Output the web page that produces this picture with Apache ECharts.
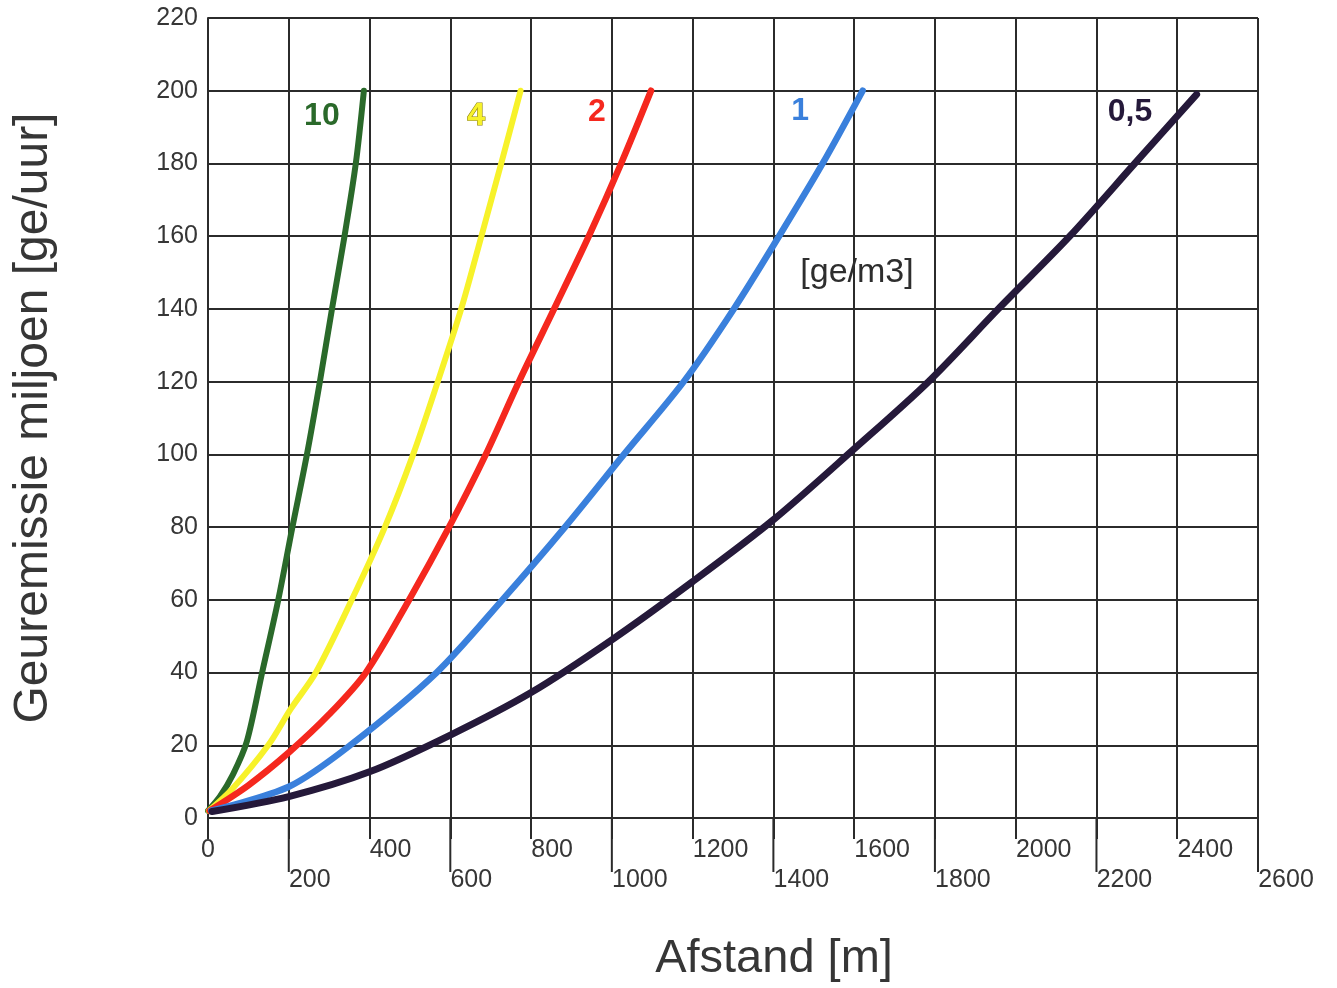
<!DOCTYPE html>
<html><head><meta charset="utf-8">
<script src="https://cdn.jsdelivr.net/npm/echarts@6/dist/echarts.min.js"></script>
<style>html,body{margin:0;padding:0;background:#fff}#c{width:1337px;height:988px}</style>
</head><body><div id="c"></div>
<script>
// x: afstand [m], y: geuremissie miljoen [ge/uur]
const curve10 = [[0,2],[30,6],[62,12],[96,21],[134,40],[174,60],[209,80],[245,100],[277,120],[307,140],[338,160],[366,180],[386,200]];
const curve4 = [[2,2],[60,8],[149,20],[205,30],[267,40],[356,60],[438,80],[508,100],[569,120],[627,140],[677,160],[726,180],[774,200]];
const curve2 = [[4,2],[100,9],[200,18],[300,28.5],[391,40],[498,60],[597,80],[688,100],[770,120],[857,140],[943,160],[1023,180],[1097,200]];
const curve1 = [[8,2],[200,8.6],[352,20],[566,40],[729,60],[884,80],[1030,100],[1178,120],[1302,140],[1414,160],[1522,180],[1621,200]];
const curve05 = [[10,1.8],[200,5.9],[400,12.7],[600,22.8],[800,34.5],[1000,49],[1200,65],[1400,82],[1600,101.5],[1784,120],[1957,140],[2134,160],[2295,180],[2448,199]];
const curveNames = ['10','4','2','1','0,5'];
const curveLabelPos = [[282,193],[664,193],[963,194],[1466,194.5],[2283,194]];
const unitLabel = '[ge/m3]';
const unitLabelPos = [1607,150];
const longTickValues = [200,600,1000,1400,1800,2200,2600];
const xMin = 0, xMax = 2600, xStep = 200;
const yMin = 0, yMax = 220, yStep = 20;

const colors = ['#2a692a','#f7f22a','#f5281e','#3a80dc','#25193a'];
const curves = [curve10, curve4, curve2, curve1, curve05];
const widths = [6,6,6.5,6.5,7];
const gridColor = '#2b2b2b';
const textColor = '#363636';
const FF = 'Liberation Sans, Helvetica, Arial, sans-serif';
const FN = '"Liberation Sans Narrow", "Liberation Sans", "Arial Narrow", sans-serif';

const chart = echarts.init(document.getElementById('c'), null, {renderer:'canvas'});

const series = curves.map((d,i)=>({
  type:'line', data:d, smooth:0.3, symbol:'none', z:3,
  lineStyle:{color:colors[i], width:widths[i], cap:'round', join:'round'}
}));

series.push({
  type:'custom', clip:false, silent:true, z:2,
  data: longTickValues,
  renderItem:(params, api)=>{
    const p = api.coord([api.value(0), 0]);
    return {type:'line', shape:{x1:p[0], y1:p[1], x2:p[0], y2:p[1]+54},
      style:{stroke:gridColor, lineWidth:2}};
  }
});

const rs = {fontSize:25, color:textColor, fontFamily:FF};
chart.setOption({
  animation:false,
  backgroundColor:'#ffffff',
  grid:{left:208, top:18, right:79, bottom:170, containLabel:false},
  xAxis:{
    type:'value', min:xMin, max:xMax, interval:xStep,
    name:'Afstand [m]', nameLocation:'middle', nameGap:118,
    nameTextStyle:{fontSize:47, color:textColor, fontFamily:FF, padding:[0,0,0,82]},
    axisLine:{show:true, lineStyle:{color:gridColor, width:2}},
    axisTick:{show:true, length:21, lineStyle:{color:gridColor, width:2}},
    splitLine:{show:true, lineStyle:{color:gridColor, width:2}},
    axisLabel:{
      margin:20, color:textColor, fontSize:25, fontFamily:FF,
      formatter:(v)=>{
        if (v===0) return '{z|0}';
        const s = String(v);
        const row = (Math.round(v/xStep)%2===1) ? 'l' : 'h';
        return '{'+row+s.length+'|'+s+'}';
      },
      rich:{
        z:Object.assign({}, rs),
        h3:Object.assign({padding:[0,0,0,42]}, rs),
        h4:Object.assign({padding:[0,0,0,56]}, rs),
        l3:Object.assign({padding:[30,0,0,42]}, rs),
        l4:Object.assign({padding:[30,0,0,56]}, rs)
      }
    }
  },
  yAxis:{
    type:'value', min:yMin, max:yMax, interval:yStep,
    name:'Geuremissie miljoen [ge/uur]', nameLocation:'middle', nameGap:150, nameRotate:90,
    nameTextStyle:{fontSize:48, color:textColor, fontFamily:FF},
    axisLine:{show:true, lineStyle:{color:gridColor, width:2}},
    axisTick:{show:false},
    splitLine:{show:true, lineStyle:{color:gridColor, width:2}},
    axisLabel:{margin:10, color:textColor, fontSize:25, fontFamily:FF}
  },
  series: series
});

const graphics = curveNames.map((n,i)=>{
  const p = chart.convertToPixel({xAxisIndex:0, yAxisIndex:0}, curveLabelPos[i]);
  return {type:'text', x:p[0], y:p[1], z:10, silent:true,
    style:{text:n, fill:colors[i], font:'bold 32px ' + FN, align:'center', verticalAlign:'middle',
      stroke: i===1 ? '#8f8410' : null, lineWidth: i===1 ? 1.2 : 0}};
});
const up = chart.convertToPixel({xAxisIndex:0, yAxisIndex:0}, unitLabelPos);
graphics.push({type:'text', x:up[0], y:up[1], z:10, silent:true,
  style:{text:unitLabel, fill:'#2e2e2e', font:'34px ' + FN, align:'center', verticalAlign:'middle'}});
chart.setOption({graphic:graphics});
</script></body></html>
